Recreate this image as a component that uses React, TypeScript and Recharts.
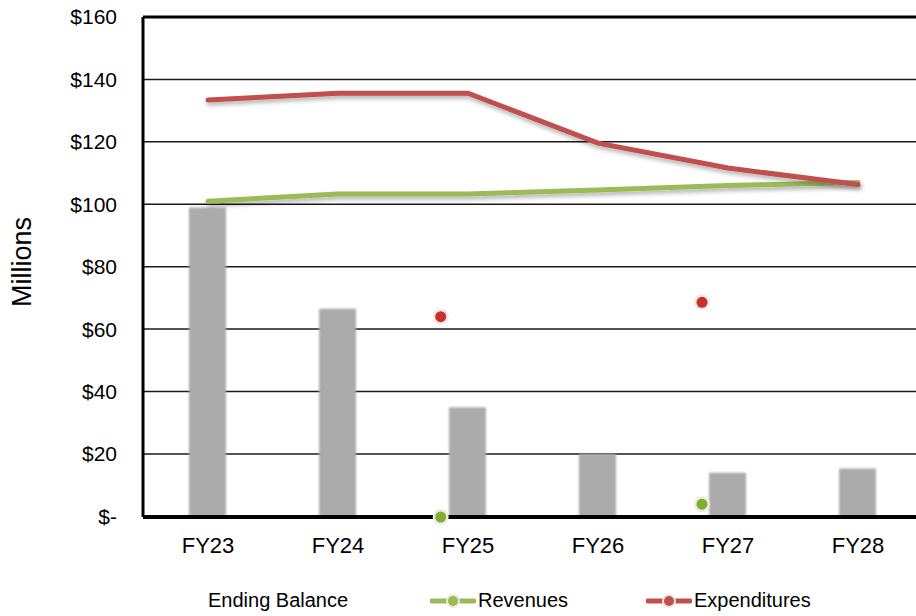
import React from 'react';
import { ComposedChart, Bar, Line, Scatter, XAxis, YAxis, CartesianGrid, ReferenceLine, Legend } from 'recharts';

const categories = ['FY23', 'FY24', 'FY25', 'FY26', 'FY27', 'FY28'];
const endingBalance = [99, 66.5, 35, 20, 14, 15.3];
const revenues = [101, 103.3, 103.3, 104.6, 106, 107];
const expenditures = [133.4, 135.6, 135.6, 119.6, 111.6, 106.3];

// stray markers left over in the source chart, positions on the category index scale
const revenueMarkers = [
  { idx: 2.79, value: -0.2 },
  { idx: 4.8, value: 3.9 },
];
const expenditureMarkers = [
  { idx: 2.79, value: 64 },
  { idx: 4.8, value: 68.6 },
];

const yTicks = [0, 20, 40, 60, 80, 100, 120, 140, 160];

const data = categories.map((name, i) => ({
  idx: i + 1,
  name,
  balance: endingBalance[i],
  revenues: revenues[i],
  expenditures: expenditures[i],
}));

const font = 'Arial, "Liberation Sans", sans-serif';

const markerShape = (color: string) => (props: any) => (
  <g>
    <circle cx={props.cx} cy={props.cy} r={8} fill="#ecebe6" />
    <circle cx={props.cx} cy={props.cy} r={5.5} fill={color} />
  </g>
);

const LegendIcon = ({ color }: { color: string }) => (
  <svg width={46} height={14} style={{ marginRight: 2 }}>
    <line x1={2} y1={7} x2={44} y2={7} stroke={color} strokeWidth={5} strokeLinecap="round" />
    <circle cx={23} cy={7} r={6} fill={color} stroke="#ece9dc" strokeWidth={2} />
  </svg>
);

const renderLegend = () => (
  <div style={{ position: 'relative', height: 30, fontFamily: font, fontSize: 20, color: '#000' }}>
    <div style={{ position: 'absolute', left: 208, top: 3 }}>Ending Balance</div>
    <div style={{ position: 'absolute', left: 430, top: 3, display: 'flex', alignItems: 'center' }}>
      <LegendIcon color="#9bbb59" />
      <span>Revenues</span>
    </div>
    <div style={{ position: 'absolute', left: 646, top: 3, display: 'flex', alignItems: 'center' }}>
      <LegendIcon color="#c0504d" />
      <span>Expenditures</span>
    </div>
  </div>
);

const App: React.FC = () => {
  return (
    <div style={{ position: 'fixed', left: 0, top: 0, width: 916, height: 616, overflow: 'hidden', background: '#fff' }}>
      <ComposedChart width={940} height={616} data={data} margin={{ top: 17, right: 17, left: 0, bottom: 0 }}>
        <defs>
          <filter id="lineShadow" x="-10%" y="-50%" width="120%" height="200%">
            <feDropShadow dx={1} dy={3} stdDeviation={2} floodColor="#000" floodOpacity={0.3} />
          </filter>
          <filter id="barSoft" x="-20%" y="-5%" width="140%" height="110%">
            <feGaussianBlur stdDeviation={1} />
          </filter>
          <pattern id="stipple" width={3} height={3} patternUnits="userSpaceOnUse">
            <rect width={3} height={3} fill="#ababab" />
            <rect width={1} height={1} fill="#909090" />
            <rect x={2} y={2} width={1} height={1} fill="#c0c0c0" />
          </pattern>
        </defs>
        <CartesianGrid vertical={false} stroke="#1a1a1a" strokeWidth={1.5} />
        <XAxis
          dataKey="idx"
          type="number"
          domain={[0.5, 6.5]}
          ticks={[1, 2, 3, 4, 5, 6]}
          tickFormatter={(v: number) => categories[v - 1] ?? ''}
          height={69}
          tickLine={false}
          tickMargin={14}
          axisLine={{ stroke: '#000', strokeWidth: 4 }}
          tick={{ fill: '#000', fontSize: 22, fontFamily: font }}
        />
        <XAxis xAxisId="markers" dataKey="idx" type="number" domain={[0.5, 6.5]} hide />
        <YAxis
          type="number"
          domain={[0, 160]}
          ticks={yTicks}
          width={143}
          tickLine={false}
          tickMargin={20}
          axisLine={{ stroke: '#000', strokeWidth: 3 }}
          tickFormatter={(v: number) => (v === 0 ? '$-' : `$${v}`)}
          tick={{ fill: '#000', fontSize: 21, fontFamily: font }}
          label={{
            content: ({ viewBox }: any) => (
              <text
                x={viewBox.x + 22}
                y={262}
                transform={`rotate(-90, ${viewBox.x + 22}, 262)`}
                textAnchor="middle"
                dominantBaseline="central"
                fontSize={27}
                fontFamily={font}
                fill="#000"
              >
                Millions
              </text>
            ),
          }}
        />
        <ReferenceLine y={160} stroke="#000" strokeWidth={3} />
        <Bar dataKey="balance" name="Ending Balance" barSize={37} fill="url(#stipple)" filter="url(#barSoft)" isAnimationActive={false} />
        <Line
          dataKey="revenues"
          name="Revenues"
          type="linear"
          stroke="#9bbb59"
          strokeWidth={5}
          strokeLinecap="round"
          dot={false}
          activeDot={false}
          filter="url(#lineShadow)"
          isAnimationActive={false}
        />
        <Line
          dataKey="expenditures"
          name="Expenditures"
          type="linear"
          stroke="#c0504d"
          strokeWidth={5}
          strokeLinecap="round"
          dot={false}
          activeDot={false}
          filter="url(#lineShadow)"
          isAnimationActive={false}
        />
        <Scatter xAxisId="markers" data={revenueMarkers} dataKey="value" shape={markerShape('#7fae32')} isAnimationActive={false} legendType="none" />
        <Scatter xAxisId="markers" data={expenditureMarkers} dataKey="value" shape={markerShape('#c8302c')} isAnimationActive={false} legendType="none" />
        <Legend verticalAlign="bottom" content={renderLegend} wrapperStyle={{ left: 0, width: 916, height: 30 }} />
      </ComposedChart>
    </div>
  );
};

export default App;
